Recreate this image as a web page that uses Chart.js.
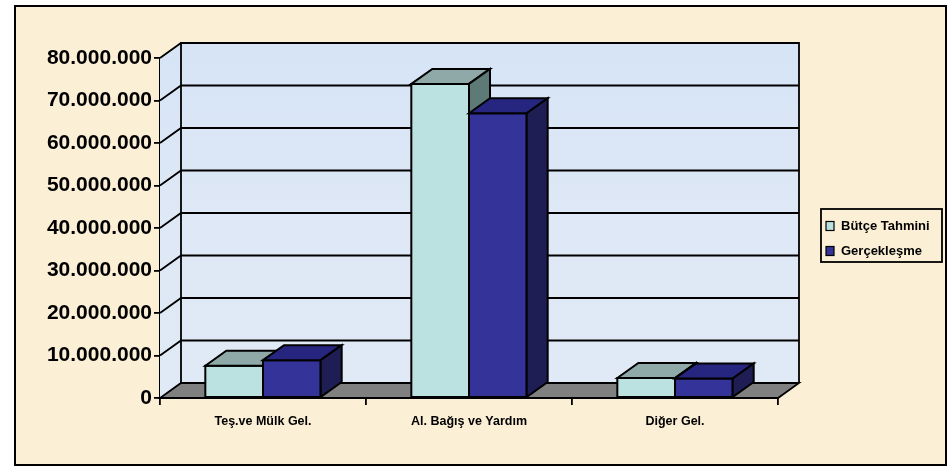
<!DOCTYPE html>
<html>
<head>
<meta charset="utf-8">
<script src="https://cdn.jsdelivr.net/npm/chart.js@4/dist/chart.umd.min.js"></script>
<style>
  html, body { margin: 0; padding: 0; background: #fff; }
  #wrap { width: 950px; height: 469px; }
</style>
</head>
<body>
<div id="wrap"><canvas id="chart" width="950" height="469"></canvas></div>
<script>
// ---- datos ----
const categories = ['Teş.ve Mülk Gel.', 'Al. Bağış ve Yardım', 'Diğer Gel.'];
const seriesNames = ['Bütçe Tahmini', 'Gerçekleşme'];
const butceTahmini = [7600000, 73900000, 4700000];
const gerceklesme = [8900000, 67000000, 4600000];
const yTicks = [0, 10000000, 20000000, 30000000, 40000000, 50000000, 60000000, 70000000, 80000000];

// ---- estilo 3D ----
const DEPTH = { dx: 21, dy: -15 };
const faces = [
  { front: '#BCE1E1', top: '#8FA8A8', side: '#5E7A77' },
  { front: '#333399', top: '#262680', side: '#1E1E55' }
];

function fmtNum(v) {
  return String(v).replace(/\B(?=(\d{3})+(?!\d))/g, '.');
}

function poly(ctx, pts, fill) {
  ctx.beginPath();
  ctx.moveTo(pts[0][0], pts[0][1]);
  for (let i = 1; i < pts.length; i++) ctx.lineTo(pts[i][0], pts[i][1]);
  ctx.closePath();
  if (fill) { ctx.fillStyle = fill; ctx.fill(); }
  ctx.stroke();
}

const scene3d = {
  id: 'scene3d',
  beforeDraw(chart) {
    const ctx = chart.ctx;
    ctx.save();
    ctx.fillStyle = '#ffffff';
    ctx.fillRect(0, 0, chart.width, chart.height);
    ctx.fillStyle = '#FBEFD6';
    ctx.fillRect(15, 6, 931, 459);
    ctx.strokeStyle = '#000';
    ctx.lineWidth = 2;
    ctx.strokeRect(15, 6, 931, 459);
    ctx.restore();
  },
  beforeDatasetsDraw(chart) {
    const ctx = chart.ctx;
    const { left, right, top, bottom } = chart.chartArea;
    const y = chart.scales.y;
    const { dx, dy } = DEPTH;
    ctx.save();
    ctx.lineWidth = 1.8;
    ctx.strokeStyle = '#000';
    ctx.lineJoin = 'miter';
    // pared trasera
    const g = ctx.createLinearGradient(0, top + dy, 0, bottom + dy);
    g.addColorStop(0, '#D6E4F6');
    g.addColorStop(0.5, '#DEE8F6');
    g.addColorStop(1, '#E0EAF6');
    ctx.fillStyle = g;
    ctx.fillRect(left + dx, top + dy, right - left, bottom - top);
    // pared lateral
    ctx.beginPath();
    ctx.moveTo(left, top); ctx.lineTo(left + dx, top + dy);
    ctx.lineTo(left + dx, bottom + dy); ctx.lineTo(left, bottom);
    ctx.closePath(); ctx.fill();
    // bordes de la pared
    ctx.beginPath();
    ctx.moveTo(left + dx, bottom + dy); ctx.lineTo(left + dx, top + dy);
    ctx.lineTo(right + dx, top + dy); ctx.lineTo(right + dx, bottom + dy);
    ctx.stroke();
    // rejilla
    yTicks.forEach(v => {
      if (v === 0) return;
      const py = y.getPixelForValue(v);
      ctx.beginPath();
      ctx.moveTo(left, py);
      ctx.lineTo(left + dx, py + dy);
      ctx.lineTo(right + dx, py + dy);
      ctx.stroke();
    });
    // suelo
    poly(ctx, [[left, bottom], [right, bottom], [right + dx, bottom + dy], [left + dx, bottom + dy]], '#808080');
    ctx.restore();
  },
  afterDatasetsDraw(chart) {
    const ctx = chart.ctx;
    const { dx, dy } = DEPTH;
    ctx.save();
    ctx.lineWidth = 2;
    ctx.strokeStyle = '#000';
    ctx.lineJoin = 'miter';
    for (let i = 0; i < categories.length; i++) {
      chart.data.datasets.forEach((ds, d) => {
        const el = chart.getDatasetMeta(d).data[i];
        const x0 = el.x - el.width / 2, x1 = el.x + el.width / 2;
        const yt = el.y, yb = el.base;
        const c = faces[d];
        poly(ctx, [[x0, yt], [x1, yt], [x1, yb], [x0, yb]], c.front);
        poly(ctx, [[x0, yt], [x0 + dx, yt + dy], [x1 + dx, yt + dy], [x1, yt]], c.top);
        poly(ctx, [[x1, yt], [x1 + dx, yt + dy], [x1 + dx, yb + dy], [x1, yb]], c.side);
      });
    }
    ctx.restore();
  },
  afterDraw(chart) {
    // leyenda con marco
    const ctx = chart.ctx;
    ctx.save();
    ctx.strokeStyle = '#000';
    ctx.lineWidth = 1.8;
    ctx.strokeRect(821, 209, 121, 53);
    ctx.font = 'bold 13px "Liberation Sans", Arial, sans-serif';
    ctx.textBaseline = 'middle';
    chart.data.datasets.forEach((ds, d) => {
      const cy = 226 + d * 25;
      ctx.fillStyle = faces[d].front;
      ctx.fillRect(826, cy - 4.5, 8, 9);
      ctx.lineWidth = 1.2;
      ctx.strokeRect(826, cy - 4.5, 8, 9);
      ctx.fillStyle = '#000';
      ctx.fillText(ds.label, 841, cy);
    });
    ctx.restore();
  }
};

new Chart(document.getElementById('chart'), {
  type: 'bar',
  data: {
    labels: categories,
    datasets: [
      { label: seriesNames[0], data: butceTahmini, backgroundColor: faces[0].front, borderColor: '#000', borderWidth: 2 },
      { label: seriesNames[1], data: gerceklesme, backgroundColor: faces[1].front, borderColor: '#000', borderWidth: 2 }
    ]
  },
  options: {
    responsive: false,
    animation: false,
    layout: { padding: { left: 14, right: 172, top: 58, bottom: 0 } },
    datasets: { bar: { categoryPercentage: 0.56, barPercentage: 1.0 } },
    plugins: {
      legend: { display: false },
      tooltip: { enabled: false }
    },
    scales: {
      x: {
        grid: { display: true, drawOnChartArea: false, drawTicks: true, tickLength: 7, color: '#000', lineWidth: 1.8, offset: true },
        border: { display: false },
        ticks: { color: '#000', padding: 9, maxRotation: 0, font: { family: '"Liberation Sans", Arial, sans-serif', size: 12.5, weight: 'bold' } },
        afterFit: s => { s.height = 71; }
      },
      y: {
        min: 0, max: 80000000,
        afterBuildTicks: s => { s.ticks = yTicks.map(v => ({ value: v })); },
        grid: { display: true, drawOnChartArea: false, drawTicks: true, tickLength: 6, color: '#000', lineWidth: 1.8 },
        border: { display: true, color: '#000', width: 1.8 },
        ticks: {
          color: '#000', padding: 2,
          font: { family: '"Liberation Sans", Arial, sans-serif', size: 21, weight: 'bold' },
          callback: v => fmtNum(v)
        },
        afterFit: s => { s.width = 146; }
      }
    }
  },
  plugins: [scene3d]
});
</script>
</body>
</html>
